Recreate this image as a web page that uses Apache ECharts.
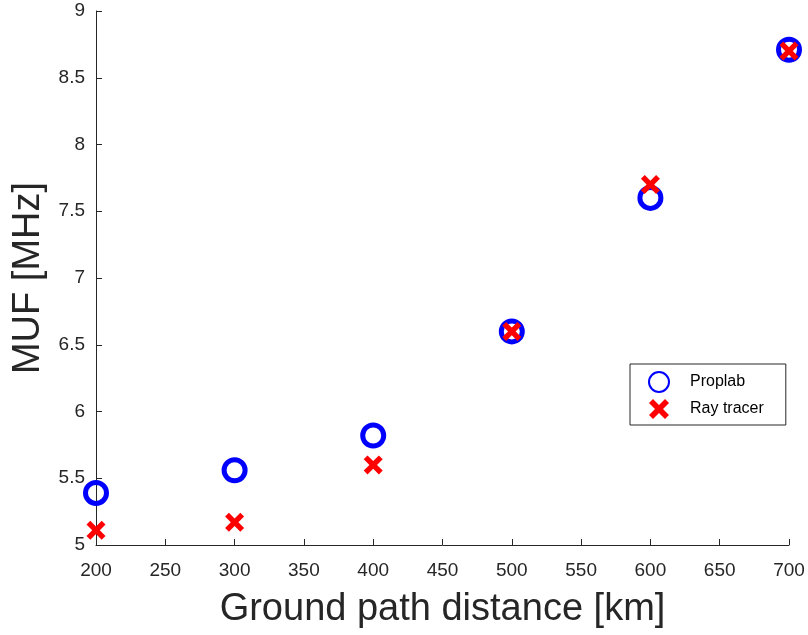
<!DOCTYPE html>
<html>
<head>
<meta charset="utf-8">
<script src="https://cdn.jsdelivr.net/npm/echarts@6/dist/echarts.min.js"></script>
<style>
  html, body { margin: 0; padding: 0; background: #fff; }
  #chart { width: 808px; height: 635px; }
</style>
</head>
<body>
<div id="chart"></div>
<script>
// 数据
var distances = [200, 300, 400, 500, 600, 700];
var proplab = [5.39, 5.56, 5.82, 6.6, 7.6, 8.71];
var rayTracer = [5.11, 5.17, 5.6, 6.6, 7.7, 8.7];

var crossPath = 'path://M0,2L2,0L5,3L8,0L10,2L7,5L10,8L8,10L5,7L2,10L0,8L3,5Z';
var axisColor = '#262626';
var font = 'Liberation Sans, Arial, sans-serif';

function pairs(xs, ys) {
  return xs.map(function (x, i) { return [x, ys[i]]; });
}

var myChart = echarts.init(document.getElementById('chart'));
var option = {
  animation: false,
  textStyle: { fontFamily: font },
  grid: { left: 96, right: 19, top: 11, bottom: 90 },
  xAxis: {
    type: 'value',
    min: 200, max: 700, interval: 50,
    name: 'Ground path distance [km]',
    nameLocation: 'middle',
    nameGap: 46,
    nameTextStyle: { fontSize: 38, color: axisColor, fontFamily: font },
    axisLine: { lineStyle: { color: axisColor, width: 1 } },
    axisTick: { inside: true, length: 6, lineStyle: { color: axisColor } },
    axisLabel: { fontSize: 19, color: axisColor, margin: 16 },
    splitLine: { show: false }
  },
  yAxis: {
    type: 'value',
    min: 5, max: 9, interval: 0.5,
    name: 'MUF [MHz]',
    nameLocation: 'middle',
    nameGap: 39,
    nameTextStyle: { fontSize: 38, color: axisColor, fontFamily: font },
    axisLine: { show: true, lineStyle: { color: axisColor, width: 1 } },
    axisTick: { show: true, inside: true, length: 6, lineStyle: { color: axisColor } },
    axisLabel: { fontSize: 19, color: axisColor, margin: 11 },
    splitLine: { show: false }
  },
  legend: {
    orient: 'vertical',
    left: 630, top: 364,
    padding: [7, 22, 6, 18],
    itemGap: 6,
    itemWidth: 22, itemHeight: 20,
    borderColor: axisColor, borderWidth: 1,
    textStyle: { fontSize: 16, color: '#000', fontFamily: font, padding: [0, 0, 0, 15] },
    data: ['Proplab', 'Ray tracer']
  },
  series: [
    {
      name: 'Proplab',
      type: 'scatter',
      symbol: 'circle',
      symbolSize: 21,
      itemStyle: { color: 'rgba(0,0,0,0)', borderColor: '#0000ff', borderWidth: 5, opacity: 1 },
      data: pairs(distances, proplab)
    },
    {
      name: 'Ray tracer',
      type: 'scatter',
      symbol: crossPath,
      symbolSize: 19,
      itemStyle: { color: '#ff0000', opacity: 1 },
      data: pairs(distances, rayTracer)
    }
  ]
};
myChart.setOption(option);
</script>
</body>
</html>
